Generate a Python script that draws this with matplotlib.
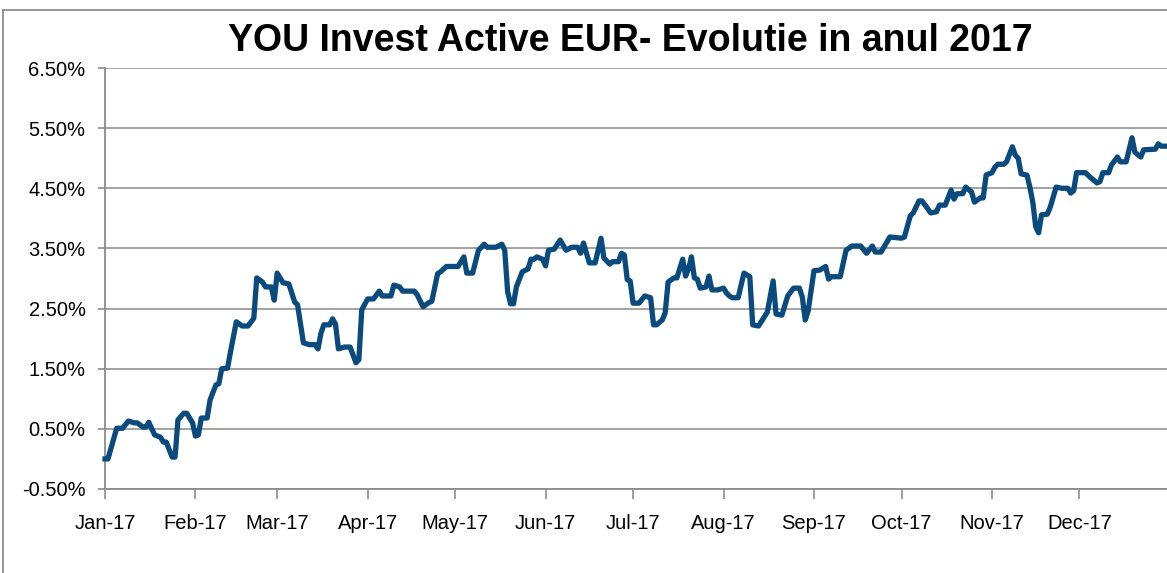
import matplotlib
matplotlib.use("Agg")
import matplotlib.pyplot as plt
import numpy as np
from matplotlib.ticker import FuncFormatter
from matplotlib.lines import Line2D

# day of year (0 = 1 Jan 2017) and return in %
days = [0, 1, 4, 6, 8, 10, 11, 13, 14, 15, 17, 19, 20, 21, 23, 24, 25, 27, 28, 30,
        31, 32, 33, 35, 36, 38, 39, 40, 42, 43, 45, 47, 49, 51, 52, 54, 55, 57, 58, 59,
        61, 63, 65, 66, 68, 70, 72, 73, 74, 75, 77, 78, 79, 80, 82, 84, 86, 87, 88, 90,
        92, 94, 95, 98, 99, 101, 102, 106, 107, 109, 111, 112, 114, 115, 117, 121, 123, 124, 126, 128,
        130, 131, 134, 136, 137, 138, 139, 140, 141, 143, 145, 146, 147, 148, 150, 151, 152, 154, 156, 158,
        160, 162, 163, 164, 166, 168, 170, 171, 173, 174, 176, 177, 178, 179, 180, 181, 183, 185, 187, 188,
        189, 191, 192, 193, 195, 196, 198, 199, 200, 201, 202, 203, 204, 206, 207, 208, 210, 212, 213, 214,
        215, 217, 219, 221, 222, 224, 227, 229, 230, 232, 234, 236, 238, 239, 240, 241, 243, 245, 247, 248,
        249, 252, 254, 256, 259, 261, 263, 264, 266, 269, 273, 274, 276, 277, 279, 280, 282, 283, 285, 286,
        288, 290, 291, 292, 294, 295, 297, 298, 300, 301, 302, 304, 305, 306, 308, 309, 311, 312, 313, 314,
        316, 317, 318, 319, 320, 321, 323, 324, 326, 328, 330, 331, 332, 333, 336, 338, 340, 341, 342, 344,
        345, 347, 348, 350, 352, 353, 355, 356, 360, 361, 362, 364]
returns = [0.00, 0.00, 0.51, 0.51, 0.63, 0.60, 0.60, 0.53, 0.53, 0.61, 0.40, 0.36, 0.28, 0.28, 0.03, 0.03, 0.65, 0.76, 0.76, 0.60,
           0.38, 0.40, 0.68, 0.68, 0.98, 1.23, 1.25, 1.50, 1.51, 1.78, 2.28, 2.21, 2.21, 2.34, 3.01, 2.94, 2.86, 2.86, 2.64, 3.09,
           2.93, 2.91, 2.61, 2.56, 1.93, 1.90, 1.90, 1.83, 2.09, 2.23, 2.23, 2.33, 2.24, 1.83, 1.86, 1.86, 1.60, 1.65, 2.48, 2.66,
           2.66, 2.79, 2.71, 2.71, 2.89, 2.86, 2.79, 2.79, 2.73, 2.53, 2.60, 2.62, 3.08, 3.11, 3.20, 3.20, 3.36, 3.09, 3.09, 3.47,
           3.57, 3.52, 3.52, 3.57, 3.47, 2.78, 2.58, 2.58, 2.86, 3.11, 3.16, 3.32, 3.32, 3.36, 3.32, 3.21, 3.47, 3.49, 3.64, 3.47,
           3.52, 3.52, 3.42, 3.59, 3.26, 3.26, 3.67, 3.34, 3.24, 3.28, 3.28, 3.42, 3.39, 2.98, 2.96, 2.59, 2.59, 2.71, 2.68, 2.23,
           2.23, 2.31, 2.43, 2.94, 3.01, 3.01, 3.32, 3.04, 3.16, 3.36, 3.01, 2.99, 2.84, 2.86, 3.04, 2.81, 2.81, 2.84, 2.76, 2.71,
           2.68, 2.68, 3.09, 3.03, 2.23, 2.21, 2.44, 2.96, 2.41, 2.39, 2.71, 2.84, 2.84, 2.69, 2.31, 2.46, 3.13, 3.14, 3.20, 2.99,
           3.03, 3.03, 3.47, 3.54, 3.54, 3.42, 3.54, 3.44, 3.44, 3.69, 3.67, 3.69, 4.04, 4.09, 4.29, 4.29, 4.16, 4.09, 4.11, 4.22,
           4.22, 4.47, 4.32, 4.41, 4.41, 4.52, 4.44, 4.27, 4.34, 4.34, 4.72, 4.76, 4.85, 4.90, 4.90, 4.94, 5.19, 5.05, 5.00, 4.74,
           4.72, 4.52, 4.27, 3.86, 3.76, 4.06, 4.07, 4.19, 4.52, 4.50, 4.50, 4.42, 4.46, 4.76, 4.76, 4.67, 4.59, 4.61, 4.76, 4.76,
           4.89, 5.02, 4.94, 4.94, 5.34, 5.10, 5.02, 5.14, 5.15, 5.24, 5.20, 5.20]

month_labels = ["Jan-17", "Feb-17", "Mar-17", "Apr-17", "May-17", "Jun-17",
                "Jul-17", "Aug-17", "Sep-17", "Oct-17", "Nov-17", "Dec-17"]
y_ticks = [-0.5, 0.5, 1.5, 2.5, 3.5, 4.5, 5.5, 6.5]

dates = np.datetime64("2017-01-01") + np.array(days).astype("timedelta64[D]")
month_starts = np.arange("2017-01", "2018-01", dtype="datetime64[M]").astype("datetime64[D]")

fig = plt.figure(figsize=(11.67, 5.73), dpi=100)
ax = fig.add_axes([0.09, 0.1466, 0.91, 0.7347])

ax.plot(dates.astype(object), returns, color="#0a4a7c", linewidth=3.8,
        solid_joinstyle="round", clip_on=False, zorder=3)

ax.set_xlim(np.datetime64("2017-01-01").astype(object), np.datetime64("2017-12-31").astype(object))
ax.set_ylim(-0.5, 6.5)
ax.set_yticks(y_ticks)
ax.yaxis.set_major_formatter(FuncFormatter(lambda v, p: f"{v:.2f}%"))
ax.set_xticks([d.astype(object) for d in month_starts])
ax.set_xticklabels(month_labels)

ax.grid(axis="y", color="#9c9c9c", linewidth=1.3)
ax.set_axisbelow(True)
for s in ["top", "right"]:
    ax.spines[s].set_visible(False)
for s in ["left", "bottom"]:
    ax.spines[s].set_color("#8c8c8c")
    ax.spines[s].set_linewidth(1.3)
ax.tick_params(axis="x", length=7, width=1.2, color="#8c8c8c", pad=11, labelsize=14.5)
ax.tick_params(axis="y", length=5, width=1.2, color="#8c8c8c", pad=9, labelsize=14.5)
for lab in ax.get_xticklabels() + ax.get_yticklabels():
    lab.set_fontfamily("Liberation Sans")

fig.text(0.54, 0.928, "YOU Invest Active EUR- Evolutie in anul 2017", ha="center", va="center",
         fontsize=27, fontweight="bold", family="Liberation Sans")

# outer chart border
fig.add_artist(Line2D([3 / 1167, 3 / 1167], [0, 1 - 10 / 573], transform=fig.transFigure,
                      color="#8c8c8c", linewidth=1.3))
fig.add_artist(Line2D([3 / 1167, 1], [1 - 10 / 573, 1 - 10 / 573], transform=fig.transFigure,
                      color="#8c8c8c", linewidth=1.3))

fig.savefig("out.png", dpi=100)
